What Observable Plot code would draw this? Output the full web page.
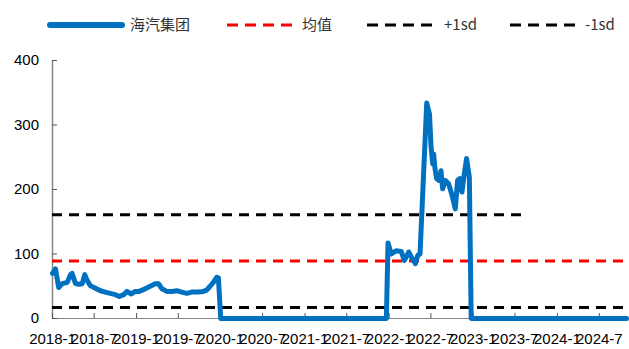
<!DOCTYPE html>
<html>
<head>
<meta charset="utf-8">
<script src="https://cdn.jsdelivr.net/npm/d3@7"></script>
<script src="https://cdn.jsdelivr.net/npm/@observablehq/plot@0.6"></script>
<style>
  html, body { margin: 0; padding: 0; background: #fff; }
  #wrap { width: 629px; }
  #legend { display: block; }
</style>
</head>
<body>
<div id="wrap"></div>
<script>
// ---- data ----
const seriesName = "海汽集团";
const dates = [
  "2018-01-01","2018-01-14","2018-01-28","2018-02-12","2018-03-06","2018-03-20","2018-03-27",
  "2018-04-11","2018-04-25","2018-05-10","2018-05-21","2018-05-31","2018-06-14","2018-07-06",
  "2018-07-28","2018-08-18","2018-09-09","2018-10-01","2018-10-18","2018-11-06","2018-11-20",
  "2018-12-09","2018-12-26","2019-01-12","2019-02-07","2019-03-01","2019-03-23","2019-04-06",
  "2019-04-21","2019-05-12","2019-06-03","2019-06-25","2019-07-16","2019-08-07","2019-08-28",
  "2019-09-26","2019-10-18","2019-11-01","2019-11-16","2019-11-30","2019-12-15","2019-12-22",
  "2020-01-01","2021-12-20","2021-12-27","2022-01-10","2022-01-31","2022-02-22","2022-03-08",
  "2022-03-27","2022-04-11","2022-04-25","2022-05-05","2022-05-15","2022-06-13","2022-06-25",
  "2022-07-02","2022-07-09","2022-07-13","2022-07-19","2022-07-26","2022-08-04","2022-08-14",
  "2022-08-21","2022-09-02","2022-09-16","2022-10-01","2022-10-15","2022-10-25","2022-11-04",
  "2022-11-13","2022-11-23","2022-12-03","2022-12-15","2022-12-23","2024-10-27"
];
const values = [
  70,77,48,54,56,68,70,
  54,53,54,68,59,51,47,
  43,41,39,37,34,37,42,
  38,42,42,46,50,54,54,
  46,42,42,43,41,39,41,
  41,42,44,50,56,64,63,
  0,0,117,100,105,104,90,
  103,93,85,98,100,334,317,
  265,240,255,232,217,214,229,
  201,214,209,191,170,214,217,
  196,224,248,219,0,0
];
const refNames  = ["均值", "+1sd", "-1sd"];
const refValues = [89, 161, 17];
const refStarts = ["2018-01-01", "2018-01-01", "2018-01-01"];
const refEnds   = ["2024-10-27", "2023-08-01", "2024-10-27"];
const refColors = ["#FF0000", "#000000", "#000000"];
const xTickLabels = ["2018-1","2018-7","2019-1","2019-7","2020-1","2020-7","2021-1","2021-7",
                     "2022-1","2022-7","2023-1","2023-7","2024-1","2024-7"];
const yTicks = [0, 100, 200, 300, 400];
const xDomain = ["2018-01-01", "2024-10-27"];

// ---- build tables ----
const parse = d3.utcParse("%Y-%m-%d");
const series = dates.map((d, i) => ({date: parse(d), value: values[i]}));
const refLines = refNames.map((n, i) => ({name: n, value: refValues[i], start: parse(refStarts[i]), end: parse(refEnds[i]), color: refColors[i]}));
const tickDates = xTickLabels.map(s => { const [y, m] = s.split("-").map(Number); return new Date(Date.UTC(y, m - 1, 1)); });
const labelByTime = new Map(tickDates.map((d, i) => [+d, xTickLabels[i]]));

const blue = "#0070C0";
const axisGrey = "#868686";

// ---- legend ----
const legendItems = [
  {name: seriesName, color: blue, width: 6, dash: null, x1: 50, x2: 122, tx: 130},
  {name: refNames[0], color: refColors[0], width: 3, dash: "11,7", x1: 227, x2: 292, tx: 302},
  {name: refNames[1], color: refColors[1], width: 3, dash: "11,7", x1: 367, x2: 435, tx: 444},
  {name: refNames[2], color: refColors[2], width: 3, dash: "11,7", x1: 510, x2: 578, tx: 585}
];
const legend = d3.create("svg").attr("id", "legend").attr("width", 629).attr("height", 40);
const g = legend.selectAll("g").data(legendItems).join("g");
g.append("line")
  .attr("x1", d => d.x1).attr("x2", d => d.x2).attr("y1", 25).attr("y2", 25)
  .attr("stroke", d => d.color).attr("stroke-width", d => d.width)
  .attr("stroke-linecap", d => d.dash ? "butt" : "round")
  .attr("stroke-dasharray", d => d.dash);
g.append("text")
  .attr("x", d => d.tx).attr("y", 25).attr("dy", "0.35em")
  .attr("font-family", "'Noto Sans CJK SC', 'Liberation Sans', sans-serif")
  .attr("font-size", 15).attr("fill", "#333")
  .text(d => d.name);
document.getElementById("wrap").append(legend.node());

// ---- chart ----
const chart = Plot.plot({
  width: 629,
  height: 309,
  marginTop: 20,
  marginBottom: 31,
  marginLeft: 52,
  marginRight: 3,
  style: {fontFamily: "'Liberation Sans', Arial, sans-serif", fontSize: "15px", color: "#000", background: "#fff"},
  x: {type: "utc", domain: xDomain.map(parse), label: null},
  y: {domain: [0, 400], label: null},
  marks: [
    Plot.ruleY([0], {stroke: axisGrey, strokeWidth: 1}),
    Plot.ruleX([parse(xDomain[0])], {stroke: axisGrey, strokeWidth: 1.5}),
    Plot.axisX(tickDates, {tickSize: -5, stroke: "#555", tickFormat: () => ""}),
    Plot.axisX(tickDates, {tickSize: 0, tickPadding: 15, fontSize: 15, tickFormat: d => labelByTime.get(+d)}),
    Plot.axisY(yTicks, {tickSize: -5, stroke: "#555", tickFormat: () => ""}),
    Plot.axisY(yTicks, {tickSize: 0, tickPadding: 13.5, fontSize: 15}),
    Plot.ruleY(refLines, {y: "value", x1: "start", x2: "end", stroke: d => d.color, strokeWidth: 3, strokeDasharray: "10,7"}),
    Plot.line(series, {x: "date", y: "value", stroke: blue, strokeWidth: 5, strokeLinejoin: "round", strokeLinecap: "round"})
  ]
});
document.getElementById("wrap").append(chart);
</script>
</body>
</html>
